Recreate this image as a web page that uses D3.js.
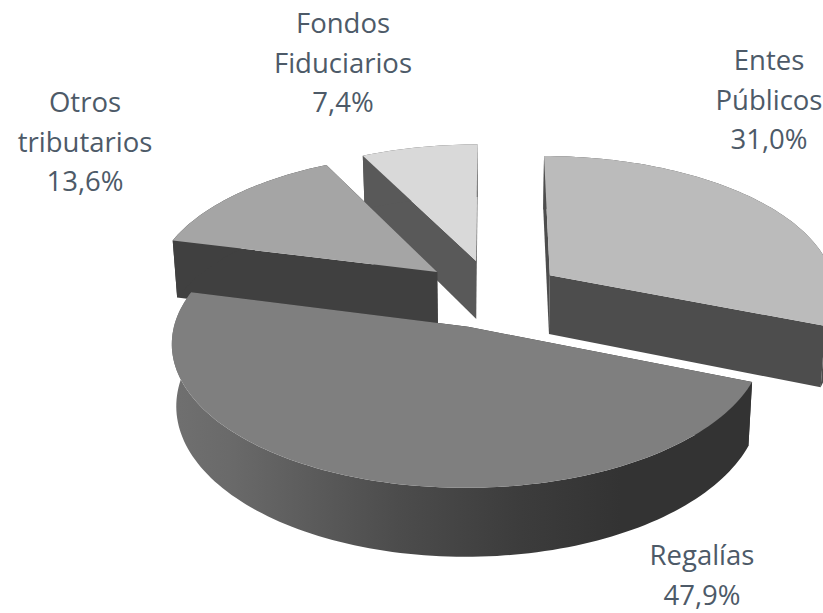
<!DOCTYPE html>
<meta charset="utf-8">
<script src="https://cdn.jsdelivr.net/npm/d3@7"></script>
<style>
    html, body { margin: 0; padding: 0; background: #fff; overflow: hidden; }
    text { font-family: "Open Sans", sans-serif; font-size: 27.5px; fill: #4d5a68; text-anchor: middle; }
</style>
<div id="pieChart"></div>
<script>
    // Data
    var categories = [["Entes", "Públicos"], ["Regalías"], ["Otros", "tributarios"], ["Fondos", "Fiduciarios"]];
    var shares = [31.0, 47.9, 13.6, 7.4];

    // Slice styles, same order as the data
    var topColors = ["#bbbbbb", "#7f7f7f", "#a5a5a5", "#d9d9d9"];
    var cutColors = ["#4d4d4d", "#333333", "#404040", "#595959"];
    var outerColors = ["#4d4d4d", "url(#regaliasSide)", "#404040", "#595959"];
    // how far each slice is pulled out of the pie [right, back]
    var explode = [[61, 53], [-21.5, -55], [-54, 60], [-14.4, 84.6]];
    // label anchor: centre x and baseline of the first line
    var labelPos = [[769, 70], [702, 565], [85, 112], [343, 33]];

    var width = 823, height = 613;
    var radius = 288, thickness = 60;

    // perspective of the pie
    var vanishX = 490, baseY = 300, camHeight = 1260, focal = 2644, bottomShrink = 0.986;

    var svg = d3.select("#pieChart").append("svg")
        .attr("width", width)
        .attr("height", height);

    var grad = svg.append("defs").append("linearGradient")
        .attr("id", "regaliasSide")
        .attr("gradientUnits", "userSpaceOnUse")
        .attr("x1", 170).attr("x2", 755).attr("y1", 0).attr("y2", 0);
    [[0, "#707070"], [0.1, "#6a6a6a"], [0.39, "#4c4c4c"], [0.6, "#3c3c3c"], [0.77, "#333333"], [1, "#333333"]]
        .forEach(function (s) { grad.append("stop").attr("offset", s[0]).attr("stop-color", s[1]); });

    // world point to screen, depth is positive going away from the viewer
    function project(x, depth, lower) {
        var s = focal / (focal + depth);
        var px = vanishX + x * s * (lower ? bottomShrink : 1);
        var py = baseY + camHeight * (s - 1) + (lower ? thickness * s : 0);
        return [px, py];
    }

    function rimPoint(d, angle, lower) {
        var e = explode[d.index];
        return project(e[0] + radius * Math.sin(angle), e[1] + radius * Math.cos(angle), lower);
    }

    function rimPoints(d, lower) {
        var n = Math.max(8, Math.ceil((d.endAngle - d.startAngle) * 40));
        return d3.range(n + 1).map(function (i) {
            return rimPoint(d, d.startAngle + (d.endAngle - d.startAngle) * i / n, lower);
        });
    }

    var line = d3.line();
    var pie = d3.pie().sort(null).value(function (v) { return v; });
    var arcs = pie(shares);

    // painter's order, the back slices first
    var drawOrder = [3, 0, 2, 1];

    drawOrder.forEach(function (i) {
        var d = arcs[i];
        var e = explode[i];
        var apexTop = project(e[0], e[1], false);
        var apexLow = project(e[0], e[1], true);
        var g = svg.append("g").attr("class", "slice");

        // the two cut faces
        [d.startAngle, d.endAngle].forEach(function (a) {
            g.append("path")
                .attr("d", line([rimPoint(d, a, false), apexTop, apexLow, rimPoint(d, a, true)]) + "Z")
                .attr("fill", cutColors[i]);
        });

        // outer wall
        g.append("path")
            .attr("d", line(rimPoints(d, false).concat(rimPoints(d, true).reverse())) + "Z")
            .attr("fill", outerColors[i]);

        // top face
        g.append("path")
            .attr("d", line([apexTop].concat(rimPoints(d, false))) + "Z")
            .attr("fill", topColors[i]);
    });

    // Labels
    categories.forEach(function (lines, i) {
        var t = svg.append("text").attr("x", labelPos[i][0]).attr("y", labelPos[i][1]);
        lines.concat(d3.format(".1f")(shares[i]).replace(".", ",") + "%").forEach(function (txt, k) {
            t.append("tspan")
                .attr("x", labelPos[i][0])
                .attr("y", labelPos[i][1] + k * 39.5)
                .text(txt);
        });
    });
</script>
